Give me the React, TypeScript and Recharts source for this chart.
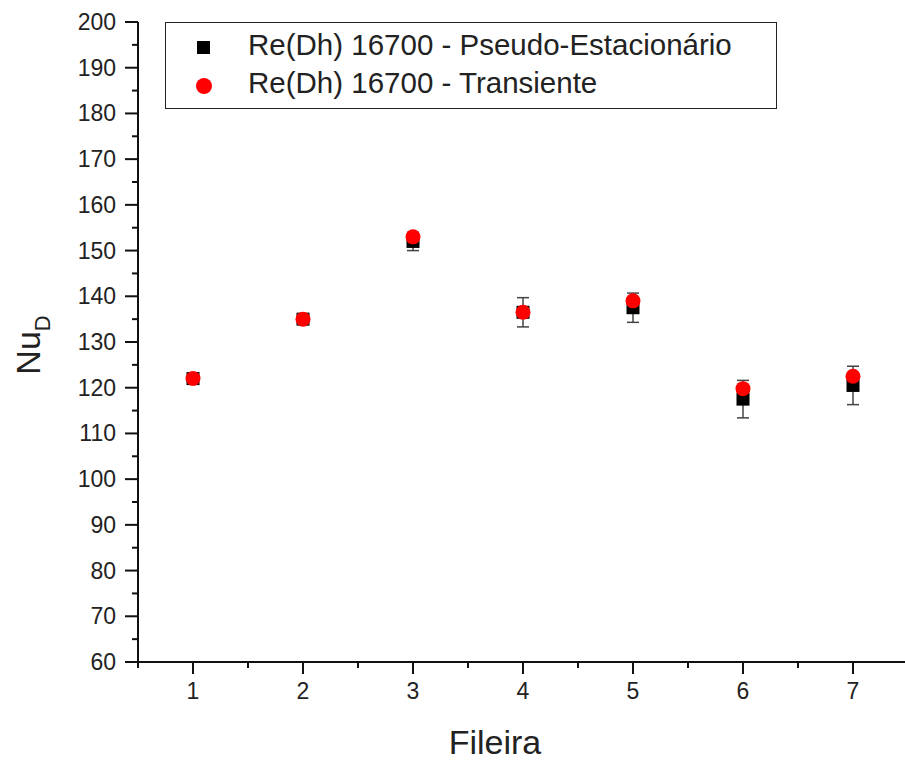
import React from "react";
import {
  ScatterChart,
  Scatter,
  XAxis,
  YAxis,
  ErrorBar,
  Legend,
  Label,
} from "recharts";

const fileiras = [1, 2, 3, 4, 5, 6, 7];
const pseudoEstacionario = [122, 135, 152, 136.5, 137.5, 117.5, 120.5];
const pseudoErro = [0.8, 0.8, 2, 3.2, 3.2, 4.1, 4.2];
const transiente = [122, 135, 153, 136.5, 139, 119.8, 122.5];

const xTicks = [0.5, 1, 1.5, 2, 2.5, 3, 3.5, 4, 4.5, 5, 5.5, 6, 6.5, 7, 7.5];
const yTicks = [
  60, 65, 70, 75, 80, 85, 90, 95, 100, 105, 110, 115, 120, 125, 130, 135, 140,
  145, 150, 155, 160, 165, 170, 175, 180, 185, 190, 195, 200,
];

const serieA = fileiras.map((f, i) => ({
  x: f,
  y: pseudoEstacionario[i],
  err: pseudoErro[i],
}));
const serieB = fileiras.map((f, i) => ({ x: f, y: transiente[i] }));

const FONT = "'Liberation Sans', Arial, sans-serif";

const XTick = (props: any) => {
  const { x, y, payload } = props;
  const major = Number.isInteger(payload.value);
  return (
    <g>
      <line x1={x} x2={x} y1={y} y2={y + (major ? 12 : 6)} stroke="#111" strokeWidth={2} />
      {major && (
        <text x={x} y={y + 37} textAnchor="middle" fontSize={23} fill="#222" fontFamily={FONT}>
          {payload.value}
        </text>
      )}
    </g>
  );
};

const YTick = (props: any) => {
  const { x, y, payload } = props;
  const major = payload.value % 10 === 0;
  return (
    <g>
      <line x1={x} x2={x - (major ? 13 : 6)} y1={y} y2={y} stroke="#111" strokeWidth={2} />
      {major && (
        <text x={x - 22} y={y + 8} textAnchor="end" fontSize={23} fill="#222" fontFamily={FONT}>
          {payload.value}
        </text>
      )}
    </g>
  );
};

const Quadrado = (p: any) => (
  <rect x={p.cx - 6.5} y={p.cy - 6.5} width={13} height={13} fill="#000" />
);
const Circulo = (p: any) => <circle cx={p.cx} cy={p.cy} r={7.5} fill="#ff0000" />;

const LegendBox = () => (
  <div
    style={{
      width: 612,
      height: 87,
      boxSizing: "border-box",
      border: "1.5px solid #222",
      background: "#fff",
      fontFamily: FONT,
      fontSize: 29.5,
      color: "#222",
      position: "relative",
    }}
  >
    <div style={{ position: "absolute", left: 31, top: 18, width: 13, height: 13, background: "#000" }} />
    <div style={{ position: "absolute", left: 82, top: 6, lineHeight: "32px", whiteSpace: "nowrap" }}>
      Re(Dh) 16700 - Pseudo-Estacionário
    </div>
    <div
      style={{
        position: "absolute",
        left: 30,
        top: 55,
        width: 16,
        height: 16,
        borderRadius: "50%",
        background: "#ff0000",
      }}
    />
    <div style={{ position: "absolute", left: 82, top: 44, lineHeight: "32px", whiteSpace: "nowrap" }}>
      Re(Dh) 16700 - Transiente
    </div>
  </div>
);

const NuLabel = () => (
  <text
    transform="translate(40,345) rotate(-90)"
    textAnchor="middle"
    fontSize={34}
    fill="#222"
    fontFamily={FONT}
  >
    Nu
    <tspan fontSize={22} dy={10}>
      D
    </tspan>
  </text>
);

export default function App() {
  return (
    <div
      style={{
        position: "absolute",
        left: 0,
        top: 0,
        width: 905,
        height: 762,
        overflow: "hidden",
        background: "#fff",
      }}
    >
      <ScatterChart
        width={912}
        height={762}
        margin={{ top: 22, right: 4, bottom: 0, left: 0 }}
      >
        <XAxis
          type="number"
          dataKey="x"
          domain={[0.5, 7.5]}
          ticks={xTicks}
          interval={0}
          height={100}
          tickSize={0}
          tickMargin={0}
          tick={<XTick />}
          axisLine={{ stroke: "#111", strokeWidth: 2 }}
          allowDataOverflow
        >
          <Label
            content={() => (
              <text x={495} y={754} textAnchor="middle" fontSize={34} fill="#222" fontFamily={FONT}>
                Fileira
              </text>
            )}
          />
        </XAxis>
        <YAxis
          type="number"
          dataKey="y"
          domain={[60, 200]}
          ticks={yTicks}
          interval={0}
          width={138}
          tickSize={0}
          tickMargin={0}
          tick={<YTick />}
          axisLine={{ stroke: "#111", strokeWidth: 2 }}
          allowDataOverflow
        >
          <Label content={() => <NuLabel />} />
        </YAxis>
        <Legend
          layout="vertical"
          align="center"
          verticalAlign="middle"
          wrapperStyle={{ left: 165, top: 22, width: 612, height: 87 }}
          content={() => <LegendBox />}
        />
        <Scatter
          name="Re(Dh) 16700 - Pseudo-Estacionário"
          data={serieA}
          shape={Quadrado}
          isAnimationActive={false}
        >
          <ErrorBar dataKey="err" direction="y" width={6} stroke="#444" strokeWidth={1.5} />
        </Scatter>
        <Scatter
          name="Re(Dh) 16700 - Transiente"
          data={serieB}
          shape={Circulo}
          isAnimationActive={false}
        />
      </ScatterChart>
    </div>
  );
}
